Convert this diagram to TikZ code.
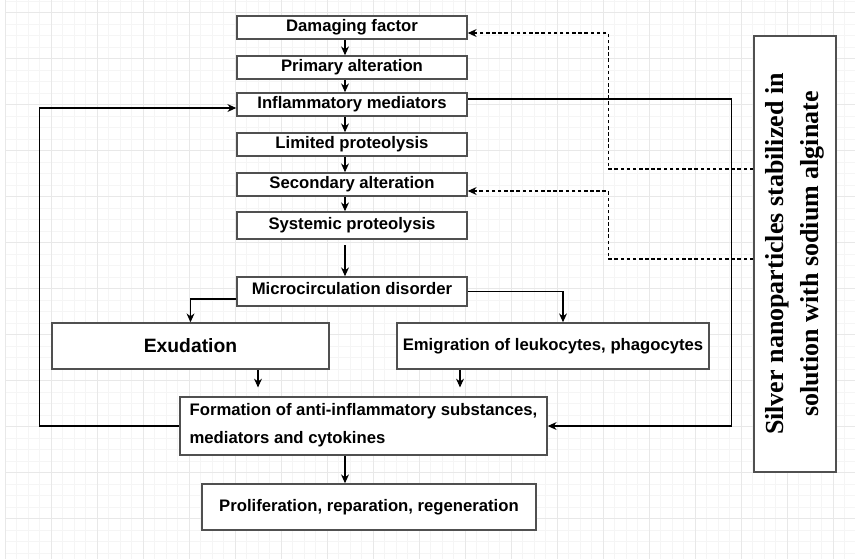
\documentclass[tikz,border=0pt]{standalone}
\usepackage{fontspec}
\setmainfont{Liberation Sans}
\newfontfamily\agfont{Liberation Serif}
\usepackage{xcolor}
\definecolor{boxgray}{RGB}{80, 80, 80}
\definecolor{gridmajor}{RGB}{232, 232, 232}
\definecolor{gridminor}{RGB}{245, 245, 245}
\usepackage{tikz}
\usetikzlibrary{arrows.meta}

\begin{document}
\begin{tikzpicture}[
  x=0.02cm, y=-0.02cm,
  box/.style={rectangle, draw=boxgray, fill=white, line width=0.9pt,
              inner sep=0pt, font=\fontsize{9.5}{11}\selectfont\bfseries},
  stage/.style={box, minimum width=4.6cm, minimum height=0.46cm},
  arr/.style={->, >={Stealth[length=5pt, width=4.5pt]}, line width=0.6pt},
  darr/.style={arr, dash pattern=on 2pt off 1.5pt},
]
% Background and grid
\useasboundingbox (0,0) rectangle (855,559);
\fill[white] (0,0) rectangle (855,559);
\foreach \gx in {5,16.5,...,855}
  \draw[gridminor, line width=0.4pt] (\gx,0) -- (\gx,559);
\foreach \gy in {1.2,12.7,...,559}
  \draw[gridminor, line width=0.4pt] (5,\gy) -- (855,\gy);
\foreach \gx in {5,51,...,855}
  \draw[gridmajor, line width=0.5pt] (\gx,0) -- (\gx,559);
\foreach \gy in {12.7,58.7,...,559}
  \draw[gridmajor, line width=0.5pt] (5,\gy) -- (855,\gy);

% Main chain
\node[stage] (dmg) at (352, 27.5) {Damaging factor};
\node[stage] (pri) at (352, 67.5) {Primary alteration};
\node[stage] (med) at (352,104.5) {Inflammatory mediators};
\node[stage] (lim) at (352,144.5) {Limited proteolysis};
\node[stage] (sec) at (352,184.5) {Secondary alteration};
\node[stage, minimum height=0.54cm] (sys) at (352,225.5) {Systemic proteolysis};
\node[stage, minimum height=0.58cm] (mic) at (352,291.5)
  {\raisebox{3pt}{Microcirculation disorder}};

% Branches
\node[box, minimum width=5.54cm, minimum height=0.92cm,
      font=\fontsize{11}{13}\selectfont\bfseries] (exu) at (190.5,346) {Exudation};
\node[box, minimum width=6.24cm, minimum height=0.92cm] (emi) at (553,346)
  {Emigration of leukocytes, phagocytes};
\node[box, minimum width=7.34cm, minimum height=1.16cm, align=left,
      font=\fontsize{9.5}{16}\selectfont\bfseries] (frm) at (363.5,426)
  {\raisebox{3pt}{Formation of anti-inflammatory substances,}\\
   \raisebox{3pt}{mediators and cytokines}};
\node[box, minimum width=6.68cm, minimum height=0.92cm] (pro) at (369,507)
  {Proliferation, reparation, regeneration};

% Silver nanoparticles
\node[box, rotate=90, minimum width=8.72cm, minimum height=1.64cm, align=center,
      font=\agfont\fontsize{14.8}{20}\selectfont\bfseries] (ag) at (795,254)
  {Silver nanoparticles stabilized in\\solution with sodium alginate};

% Helper coordinates
\coordinate (spine) at (345,0);
\coordinate (exdown) at (258,0);
\coordinate (emdown) at (460,0);

% Chain arrows
\draw[arr] (dmg.south -| spine) -- (pri.north -| spine);
\draw[arr] (pri.south -| spine) -- (med.north -| spine);
\draw[arr] (med.south -| spine) -- (lim.north -| spine);
\draw[arr] (lim.south -| spine) -- (sec.north -| spine);
\draw[arr] (sec.south -| spine) -- (sys.north -| spine);
\draw[arr, shorten <=3pt] (sys.south -| spine) -- (mic.north -| spine);

% Split and merge
\draw[arr] ([yshift=-0.15cm]mic.west) -| (exu.north);
\draw[arr] (mic.east) -| ([xshift=0.2cm]emi.north);
\draw[arr, shorten >=5pt] (exu.south -| exdown) -- (frm.north -| exdown);
\draw[arr, shorten >=5pt] (emi.south -| emdown) -- (frm.north -| emdown);
\draw[arr] (frm.south -| spine) -- (pro.north -| spine);

% Feedback loops
\draw[arr] (frm.west) -- ++(-140,0) |- ([yshift=-0.07cm]med.west);
\draw[arr] ([yshift=0.11cm]med.east) -- ++(264,0) |- (frm.east);

% Dashed influence
\draw[darr] ([yshift=1.7cm]ag.north) -- ++(-145,0) |- ([yshift=-0.11cm]dmg.east);
\draw[darr] ([yshift=-0.1cm]ag.north) -- ++(-145,0) |- ([yshift=-0.13cm]sec.east);
\end{tikzpicture}
\end{document}
